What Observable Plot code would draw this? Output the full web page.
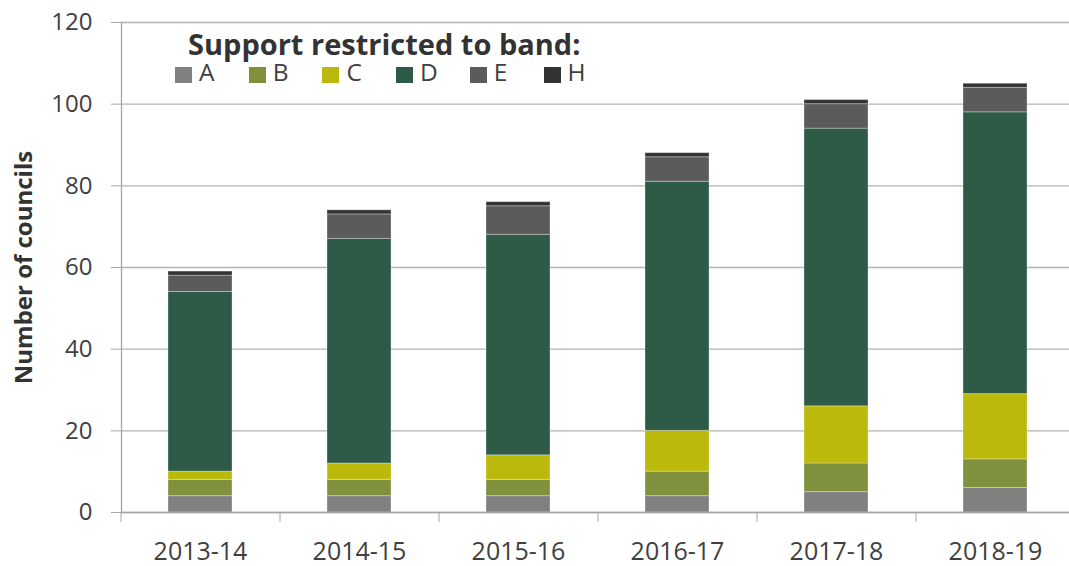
<!DOCTYPE html>
<html>
<head>
<meta charset="utf-8">
<script src="https://cdn.jsdelivr.net/npm/d3@7"></script>
<script src="https://cdn.jsdelivr.net/npm/@observablehq/plot@0.6"></script>
<style>
  html, body { margin: 0; padding: 0; background: #ffffff; }
  #wrap { position: relative; width: 1069px; height: 566px; font-family: "Open Sans", sans-serif; color: #404040; }
  #legend { position: absolute; left: 0; top: 0; }
  #legend .title { position: absolute; left: 188px; top: 28.5px; font-size: 29px; line-height: 29px; font-weight: bold; color: #333333; white-space: nowrap; }
  #legend .item { position: absolute; top: 60.2px; height: 24.5px; font-size: 24.5px; line-height: 24.5px; white-space: nowrap; }
  #legend .sw { position: absolute; width: 17px; height: 16px; top: 6.5px; left: 0; }
  #legend .lab { position: absolute; left: 24px; top: 0; color: #404040; }
</style>
</head>
<body>
<div id="wrap"></div>
<script>
// ---- data ----
const years = ["2013-14", "2014-15", "2015-16", "2016-17", "2017-18", "2018-19"];
const bands = ["A", "B", "C", "D", "E", "H"];
const bandColors = ["#808080", "#80913d", "#bbb90c", "#2d5b47", "#5b5b5b", "#333333"];
const bandA = [4, 4, 4, 4, 5, 6];
const bandB = [4, 4, 4, 6, 7, 7];
const bandC = [2, 4, 6, 10, 14, 16];
const bandD = [44, 55, 54, 61, 68, 69];
const bandE = [4, 6, 7, 6, 6, 6];
const bandH = [1, 1, 1, 1, 1, 1];
const yTicks = [0, 20, 40, 60, 80, 100, 120];
const yLabel = "Number of councils";
const legendTitle = "Support restricted to band:";

const series = [bandA, bandB, bandC, bandD, bandE, bandH];
const rows = [];
bands.forEach((b, bi) => years.forEach((y, yi) => rows.push({year: y, band: b, value: series[bi][yi]})));

const W = 1069, H = 566;
const left = 120.5, step = 159;

const chart = Plot.plot({
  width: W,
  height: H,
  marginTop: 22,
  marginBottom: 54,
  marginLeft: 121,
  marginRight: 0,
  style: {fontFamily: "Open Sans, sans-serif", fontSize: "24px", color: "#404040", background: "white"},
  x: {type: "band", domain: years, range: [left, left + step * years.length], paddingInner: 0.6, paddingOuter: 0.3, axis: null},
  y: {domain: [0, 120], axis: null},
  color: {domain: bands, range: bandColors},
  marks: [
    Plot.gridY(yTicks, {stroke: "#b3b3b3", strokeOpacity: 1, strokeWidth: 1.3}),
    Plot.barY(rows, {x: "year", y: "value", fill: "band", stroke: "#ffffff", strokeOpacity: 0.3, strokeWidth: 1, order: bands}),
    Plot.frame({anchor: "left", stroke: "#a6a6a6", strokeWidth: 1.3}),
    Plot.frame({anchor: "bottom", stroke: "#a6a6a6", strokeWidth: 1.3}),
    Plot.axisY({ticks: yTicks, tickSize: 10, tickPadding: 19, stroke: "#a6a6a6", fill: "#404040", fontSize: 24, label: null}),
    Plot.axisX({tickSize: 10, tickFormat: () => "", dx: -step / 2, stroke: "#a6a6a6", label: null}),
    Plot.axisX({tickSize: 0, tickPadding: 30, fill: "#404040", fontSize: 25, label: null}),
    Plot.text([yLabel], {text: d => d, frameAnchor: "left", textAnchor: "middle", rotate: -90, dx: -97, fontSize: 24, fontWeight: "bold", fill: "#333333"})
  ]
});

const wrap = document.getElementById("wrap");
wrap.appendChild(chart);

// legend overlay built from the band arrays
const leg = document.createElement("div");
leg.id = "legend";
const t = document.createElement("div");
t.className = "title";
t.textContent = legendTitle;
leg.appendChild(t);
bands.forEach((b, i) => {
  const it = document.createElement("div");
  it.className = "item";
  it.style.left = (175 + i * 73.7) + "px";
  const sw = document.createElement("span");
  sw.className = "sw";
  sw.style.background = bandColors[i];
  const lab = document.createElement("span");
  lab.className = "lab";
  lab.textContent = b;
  it.appendChild(sw);
  it.appendChild(lab);
  leg.appendChild(it);
});
wrap.appendChild(leg);
</script>
</body>
</html>
